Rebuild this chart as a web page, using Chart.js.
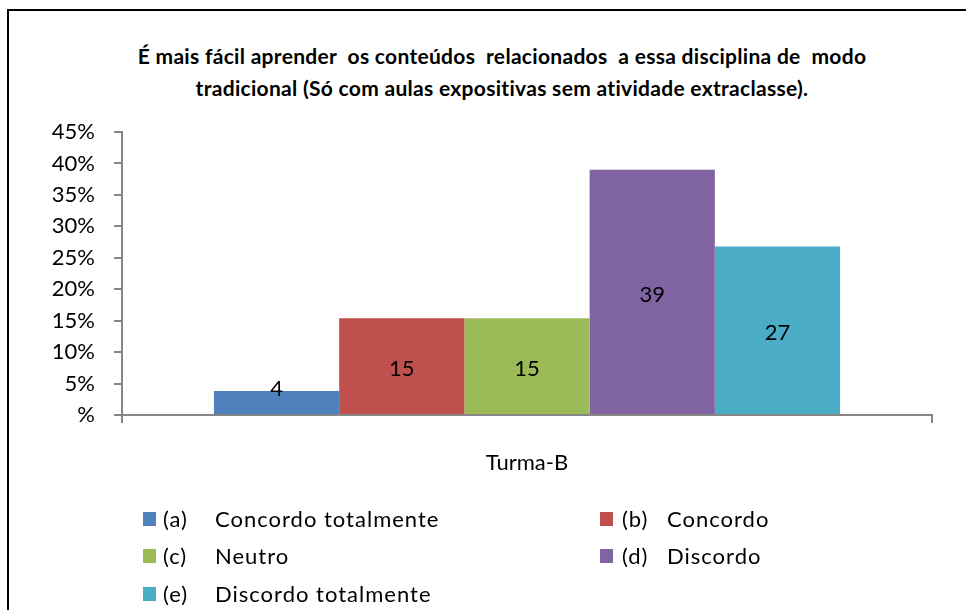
<!DOCTYPE html>
<html>
<head>
<meta charset="utf-8">
<script src="https://cdn.jsdelivr.net/npm/chart.js@4/dist/chart.umd.min.js"></script>
<style>
  html, body { margin: 0; padding: 0; background: #fff; overflow: hidden; }
  #wrap { position: relative; width: 966px; height: 610px; font-family: Lato, 'Open Sans', sans-serif; }
  #frame { position: absolute; left: 7px; top: 9px; width: 1100px; height: 800px; border: 2px solid #000; }
  #title { position: absolute; left: 102px; width: 800px; top: 40px; text-align: center;
           font-weight: bold; font-size: 21px; letter-spacing: 0.3px; line-height: 32px; color: #000; white-space: pre; }
  canvas { position: absolute; left: 0; top: 0; }
  #legend { position: absolute; left: 0; top: 0; font-size: 22px; letter-spacing: 1px; color: #000; }
  .item { position: absolute; height: 26px; line-height: 26px; white-space: nowrap; }
  .box { position: absolute; left: 0; top: 6px; width: 13px; height: 14px; }
  .code { position: absolute; top: 0; }
  .txt { position: absolute; top: 0; }
</style>
</head>
<body>
<div id="wrap">
  <div id="frame"></div>
  <div id="title">É mais fácil aprender  os conteúdos  relacionados  a essa disciplina de  modo
tradicional (Só com aulas expositivas sem atividade extraclasse).</div>
  <canvas id="chart" width="966" height="610"></canvas>
  <div id="legend"></div>
</div>
<script>
// Chart data
const categories = ['Turma-B'];
const codes = ['(a)', '(b)', '(c)', '(d)', '(e)'];
const answers = ['Concordo totalmente', 'Concordo', 'Neutro', 'Discordo', 'Discordo totalmente'];
const percents = [3.8, 15.4, 15.4, 39, 26.8];
const colors = ['#4F81BD', '#C0504D', '#9BBB59', '#8064A2', '#4BACC6'];

const FONT = 'Lato, "Open Sans", sans-serif';
const axisGray = '#868686';

// Value labels drawn in the middle of each bar
const barLabels = {
  id: 'barLabels',
  afterDatasetsDraw(chart) {
    const ctx = chart.ctx;
    ctx.save();
    ctx.font = '22px ' + FONT;
    ctx.fillStyle = '#000';
    ctx.textAlign = 'center';
    ctx.textBaseline = 'middle';
    chart.data.datasets.forEach((ds, i) => {
      const bar = chart.getDatasetMeta(i).data[0];
      const h = bar.base - bar.y;
      const y = h < 40 ? bar.y - 2 : (bar.y + bar.base) / 2 + 3;
      ctx.fillText(Math.round(ds.data[0]), bar.x, y);
    });
    ctx.restore();
  }
};

const datasets = answers.map((a, i) => ({
  label: codes[i] + ' ' + a,
  data: [percents[i]],
  backgroundColor: colors[i],
  borderWidth: 0,
  barPercentage: 1,
  categoryPercentage: 0.773
}));

const chart = new Chart(document.getElementById('chart'), {
  type: 'bar',
  data: { labels: categories, datasets },
  options: {
    responsive: false,
    animation: false,
    layout: { padding: { top: 132, right: 34, left: 0, bottom: 0 } },
    plugins: {
      legend: { display: false },
      tooltip: { enabled: false },
      title: { display: false }
    },
    scales: {
      x: {
        offset: true,
        afterFit: (s) => { s.height = 195; },
        grid: { offset: true, drawOnChartArea: false, tickLength: 8, color: axisGray, lineWidth: 2 },
        border: { color: axisGray, width: 2 },
        ticks: { font: { size: 22, family: FONT }, color: '#000', padding: 27 }
      },
      y: {
        min: 0,
        max: 45,
        afterFit: (s) => { s.width = 122; },
        grid: { drawOnChartArea: false, tickLength: 8, color: axisGray, lineWidth: 2 },
        border: { color: axisGray, width: 2 },
        ticks: {
          stepSize: 5,
          padding: 19,
          font: { size: 22, family: FONT },
          color: '#000',
          callback: (v) => (v === 0 ? '%' : v + '%')
        }
      }
    }
  },
  plugins: [barLabels]
});

// HTML legend, two columns
const legend = document.getElementById('legend');
const colX = [143, 600];
const codeGap = [20, 22];
const textGap = [72, 67];
const rowY = [506, 543, 581];
chart.data.datasets.forEach((ds, i) => {
  const col = i % 2, row = Math.floor(i / 2);
  const item = document.createElement('div');
  item.className = 'item';
  item.style.left = colX[col] + 'px';
  item.style.top = rowY[row] + 'px';
  item.innerHTML = '<span class="box" style="background:' + ds.backgroundColor + '"></span>' +
    '<span class="code" style="left:' + codeGap[col] + 'px">' + codes[i] + '</span>' +
    '<span class="txt" style="left:' + textGap[col] + 'px">' + answers[i] + '</span>';
  legend.appendChild(item);
});
</script>
</body>
</html>
